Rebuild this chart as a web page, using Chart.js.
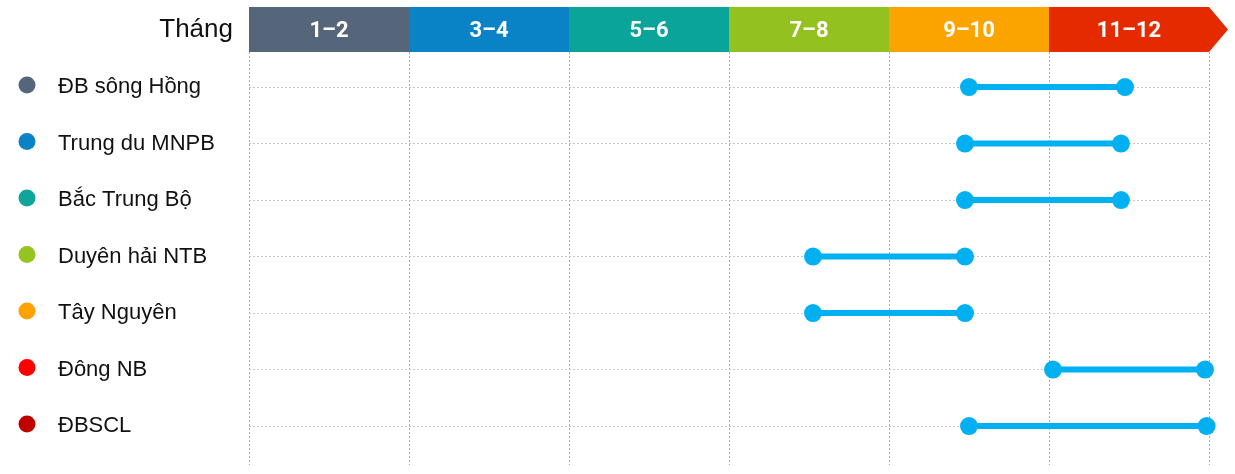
<!DOCTYPE html>
<html>
<head>
<meta charset="utf-8">
<script src="https://cdn.jsdelivr.net/npm/chart.js@4.4.1/dist/chart.umd.min.js"></script>
<style>
  html, body { margin: 0; padding: 0; background: #fff; }
  #wrap { width: 1235px; height: 474px; position: relative; }
</style>
</head>
<body>
<div id="wrap"><canvas id="seasonChart"></canvas></div>
<script>
// vùng và màu chấm
const regions = ['ĐB sông Hồng', 'Trung du MNPB', 'Bắc Trung Bộ', 'Duyên hải NTB', 'Tây Nguyên', 'Đông NB', 'ĐBSCL'];
const regionColors = ['#56667a', '#0a82c6', '#10a59b', '#93c41f', '#ffa200', '#ff0000', '#c00000'];

// thời điểm bắt đầu / kết thúc (tháng, thang 0-12)
const startMonth = [9.0, 8.95, 8.95, 7.05, 7.05, 10.05, 9.0];
const endMonth = [10.95, 10.9, 10.9, 8.95, 8.95, 11.95, 11.97];

// dải tháng ở trên cùng
const bandLabels = ['1-2', '3-4', '5-6', '7-8', '9-10', '11-12'];
const bandColors = ['#56667a', '#0a82c6', '#0aa49a', '#93c11f', '#fba400', '#e52a00'];
const headerTitle = 'Tháng';

const labelFont = '"Liberation Sans", Arial, sans-serif';

const datasets = regions.map((name, i) => ({
    label: name,
    data: [{ x: startMonth[i], y: i }, { x: endMonth[i], y: i }],
    borderColor: '#00b0f0',
    backgroundColor: '#00b0f0',
    borderWidth: 6,
    pointRadius: 9,
    pointHoverRadius: 9,
    pointBorderWidth: 0,
    clip: false
}));

// vẽ dải tháng + chú thích bên trái
const decorPlugin = {
    id: 'decor',
    beforeDraw(chart) {
        const ctx = chart.ctx;
        const xs = chart.scales.x;
        const ys = chart.scales.y;
        const top = 7, bottom = 52;
        ctx.save();
        bandLabels.forEach((lab, i) => {
            const x0 = xs.getPixelForValue(i * 2);
            const x1 = xs.getPixelForValue(i * 2 + 2);
            ctx.fillStyle = bandColors[i];
            ctx.beginPath();
            if (i === bandLabels.length - 1) {
                ctx.moveTo(x0, top);
                ctx.lineTo(x1, top);
                ctx.lineTo(x1 + 19, (top + bottom) / 2);
                ctx.lineTo(x1, bottom);
                ctx.lineTo(x0, bottom);
            } else {
                ctx.rect(x0, top, x1 - x0, bottom - top);
            }
            ctx.closePath();
            ctx.fill();
            ctx.fillStyle = '#fff';
            ctx.font = 'bold 22px Roboto, sans-serif';
            ctx.textAlign = 'center';
            ctx.textBaseline = 'middle';
            ctx.fillText(lab.replace('-', '\u2013'), (x0 + x1) / 2, (top + bottom) / 2 + 2);
        });
        ctx.fillStyle = '#111';
        ctx.font = '26px ' + labelFont;
        ctx.textAlign = 'right';
        ctx.textBaseline = 'middle';
        ctx.fillText(headerTitle, 233, 30);

        regions.forEach((name, i) => {
            const y = ys.getPixelForValue(i);
            ctx.fillStyle = regionColors[i];
            ctx.beginPath();
            ctx.arc(27, y - 2, 8.5, 0, Math.PI * 2);
            ctx.fill();
            ctx.fillStyle = '#111';
            ctx.font = '22px ' + labelFont;
            ctx.textAlign = 'left';
            ctx.textBaseline = 'middle';
            ctx.fillText(name, 58, y);
        });
        ctx.restore();
    }
};

const ctx = document.getElementById('seasonChart').getContext('2d');
const chart = new Chart(ctx, {
    type: 'line',
    data: { datasets: datasets },
    options: {
        responsive: true,
        maintainAspectRatio: false,
        animation: false,
        layout: { padding: { left: 249, top: 52, right: 26, bottom: 0 } },
        plugins: { legend: { display: false }, tooltip: { enabled: false } },
        scales: {
            x: {
                type: 'linear',
                min: 0,
                max: 12,
                afterBuildTicks: (s) => { s.ticks = [0, 2, 4, 6, 8, 10, 12].map(v => ({ value: v })); },
                ticks: { display: false },
                border: { display: false, dash: [2, 2] },
                grid: { color: '#a8a8a8', lineWidth: 1, drawTicks: false }
            },
            y: {
                type: 'linear',
                reverse: true,
                min: -0.62,
                max: 6.69,
                afterBuildTicks: (s) => { s.ticks = regions.map((r, i) => ({ value: i })); },
                ticks: { display: false },
                border: { display: false, dash: [2, 2] },
                grid: { color: '#c8c8c8', lineWidth: 1, drawTicks: false }
            }
        }
    },
    plugins: [decorPlugin]
});
</script>
</body>
</html>
